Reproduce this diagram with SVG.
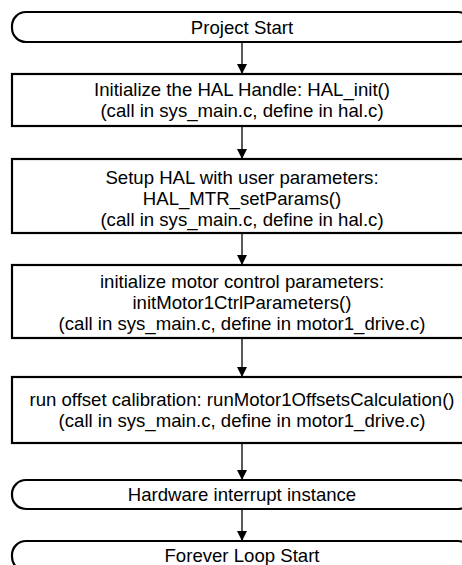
<svg xmlns="http://www.w3.org/2000/svg" width="462" height="565" viewBox="0 0 462 565">
<defs>
<style>
.box{fill:#fff;stroke:#000;stroke-width:2.2}
.t{font-family:"Liberation Sans",Arial,sans-serif;font-size:18.6px;fill:#000;text-anchor:middle}
.c{stroke:#000;stroke-width:1.3;fill:none}
</style>
<marker id="ah" viewBox="0 0 10 10" refX="10" refY="5" markerWidth="10" markerHeight="10" markerUnits="userSpaceOnUse" orient="auto">
<path d="M0,0 L10,5 L0,10 Z" fill="#000"/>
</marker>
</defs>
<rect width="462" height="565" fill="#fff"/>
<g id="connectors">
<line class="c" x1="242" y1="42" x2="242" y2="74" marker-end="url(#ah)"/>
<line class="c" x1="242" y1="126" x2="242" y2="159" marker-end="url(#ah)"/>
<line class="c" x1="242" y1="233" x2="242" y2="265" marker-end="url(#ah)"/>
<line class="c" x1="242" y1="338" x2="242" y2="377" marker-end="url(#ah)"/>
<line class="c" x1="242" y1="443" x2="242" y2="480" marker-end="url(#ah)"/>
<line class="c" x1="242" y1="509" x2="242" y2="541" marker-end="url(#ah)"/>
</g>
<g id="n1">
<rect class="box" x="12" y="12" width="460" height="30" rx="14" ry="14"/>
<text class="t" x="242" y="33.5">Project Start</text>
</g>
<g id="n2">
<rect class="box" x="12" y="74" width="460" height="52"/>
<text class="t" x="242" y="96">Initialize the HAL Handle: HAL_init()</text>
<text class="t" x="242" y="117">(call in sys_main.c, define in hal.c)</text>
</g>
<g id="n3">
<rect class="box" x="12" y="159" width="460" height="74"/>
<text class="t" x="242" y="184">Setup HAL with user parameters:</text>
<text class="t" x="242" y="205">HAL_MTR_setParams()</text>
<text class="t" x="242" y="226">(call in sys_main.c, define in hal.c)</text>
</g>
<g id="n4">
<rect class="box" x="12" y="265" width="460" height="73"/>
<text class="t" x="242" y="288">initialize motor control parameters:</text>
<text class="t" x="242" y="309">initMotor1CtrlParameters()</text>
<text class="t" x="242" y="330">(call in sys_main.c, define in motor1_drive.c)</text>
</g>
<g id="n5">
<rect class="box" x="12" y="377" width="460" height="66"/>
<text class="t" x="242" y="406">run offset calibration: runMotor1OffsetsCalculation()</text>
<text class="t" x="242" y="427">(call in sys_main.c, define in motor1_drive.c)</text>
</g>
<g id="n6">
<rect class="box" x="12" y="480" width="460" height="29" rx="14" ry="14"/>
<text class="t" x="242" y="501">Hardware interrupt instance</text>
</g>
<g id="n7">
<rect class="box" x="12" y="541" width="460" height="30" rx="14" ry="14"/>
<text class="t" x="242" y="562">Forever Loop Start</text>
</g>
</svg>
